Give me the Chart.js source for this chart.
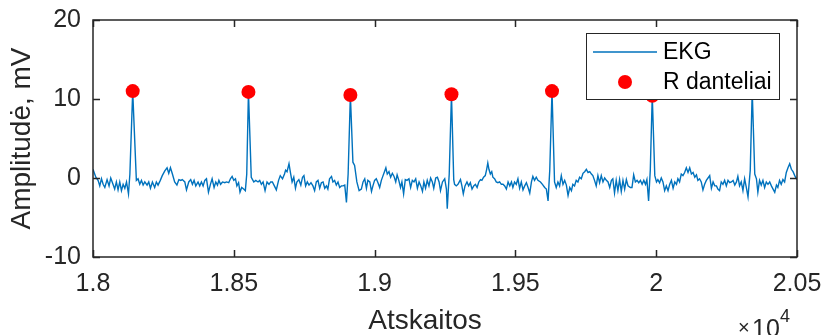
<!DOCTYPE html>
<html lang="lt">
<head>
  <meta charset="UTF-8" />
  <title>EKG R danteliai</title>
  <style>
    body { margin: 0; background: #fff; }
    #wrap { width: 824px; height: 335px; }
  </style>
</head>
<body>
  <div id="wrap"><canvas id="ekg" width="824" height="335"></canvas></div>

  <script src="https://cdn.jsdelivr.net/npm/chart.js"></script>
  <script>
    // EKG signal (sample number, mV)
    const ekgX = [
      18000,18010,18018,18024,18030,18036,18042,18050,18057,18063,18071,18077,18083,18089,18095,18101,18107,18113,18119,18126,
      18131,18141,18154,18160,18166,18172,18178,18184,18192,18198,18204,18211,18219,18225,18231,18239,18246,18255,18263,18269,
      18275,18282,18290,18298,18305,18312,18317,18326,18332,18340,18347,18353,18359,18365,18373,18379,18385,18391,18397,18403,
      18410,18417,18423,18430,18436,18442,18447,18453,18460,18468,18474,18482,18488,18494,18500,18506,18511,18517,18522,18528,
      18535,18541,18546,18552,18562,18571,18578,18586,18592,18598,18604,18611,18618,18625,18631,18637,18644,18651,18659,18665,
      18673,18680,18684,18689,18696,18701,18707,18713,18719,18724,18731,18738,18744,18749,18755,18761,18767,18774,18781,18787,
      18793,18799,18805,18811,18817,18823,18829,18834,18840,18847,18852,18858,18864,18870,18876,18882,18888,18894,18900,18906,
      18914,18923,18929,18937,18945,18953,18959,18965,18971,18976,18983,18989,18994,19000,19006,19012,19018,19024,19030,19036,
      19040,19045,19051,19057,19063,19069,19075,19080,19086,19092,19097,19103,19109,19115,19122,19128,19134,19140,19146,19152,
      19158,19164,19170,19175,19181,19187,19193,19199,19205,19210,19217,19223,19229,19234,19241,19249,19255,19258,19265,19273,
      19281,19284,19290,19296,19305,19310,19315,19321,19328,19334,19340,19346,19352,19358,19364,19370,19376,19381,19387,19393,
      19398,19402,19406,19411,19416,19420,19426,19432,19438,19444,19450,19456,19462,19468,19474,19480,19486,19491,19497,19503,
      19509,19515,19521,19527,19533,19539,19545,19551,19557,19562,19568,19574,19580,19589,19596,19604,19610,19616,19622,19630,
      19639,19645,19651,19657,19663,19669,19675,19681,19687,19693,19699,19704,19710,19716,19722,19728,19734,19740,19746,19752,
      19758,19764,19770,19775,19781,19787,19793,19799,19805,19811,19817,19823,19829,19835,19841,19846,19852,19858,19864,19870,
      19876,19882,19888,19894,19900,19908,19914,19920,19926,19932,19938,19944,19950,19956,19962,19967,19973,19979,19986,19995,
      20001,20006,20012,20018,20024,20030,20036,20042,20048,20054,20060,20066,20072,20077,20083,20089,20095,20101,20107,20113,
      20119,20125,20131,20137,20143,20148,20154,20160,20166,20172,20178,20184,20190,20196,20202,20208,20214,20219,20225,20231,
      20237,20243,20249,20255,20261,20267,20273,20279,20285,20290,20296,20302,20308,20314,20320,20326,20334,20341,20350,20356,
      20361,20367,20373,20379,20385,20391,20397,20403,20409,20415,20421,20427,20432,20438,20444,20450,20456,20462,20468,20474,
      20480,20486,20492,20498,20500
    ];
    const ekgY = [
      1.1,0.1,-0.3,-1.0,-0.1,-0.8,-1.2,-0.2,-1.0,0,-0.8,-1.4,-0.5,-1.5,-0.5,-1.6,-0.8,-1.3,-0.5,-2.0,
      0.5,11.0,-0.3,-0.1,-0.8,-0.3,-0.9,-0.5,-0.9,-0.5,-1.3,-0.5,-1.2,-0.5,-0.9,-0.3,0.3,0.9,1.3,0.6,
      1.3,0.5,-0.5,-0.9,-0.2,-0.3,-0.2,-0.5,-1.5,-0.5,-0.2,-0.8,-0.3,-1.0,-0.5,-1.0,-0.5,-1.0,-0.3,-0.1,
      -1.8,-0.8,-0.1,-1.2,-0.5,-0.9,-0.3,-0.8,-0.5,-0.6,-0.5,-0.6,-0.1,0.2,-0.3,-0.1,-1.0,-0.6,-1.8,-1.2,
      -1.4,-1.6,0.5,10.9,0.1,-0.5,-0.3,-0.5,-0.3,-0.8,-0.5,-1.6,-0.5,-0.8,-0.5,-0.5,-1.0,-1.5,-0.3,0.3,
      -0.1,0.5,1.0,0.8,1.8,0.7,-0.5,0.1,-1.3,-0.5,-0.2,-0.9,0.1,0.3,-1.0,-0.5,-0.9,-0.6,-1.0,-1.6,
      -0.5,-0.3,-1.3,-0.6,-0.5,-1.3,-1.0,-1.4,-0.1,0.2,-0.5,-0.3,-0.9,-0.5,-1.2,-1.0,-1.0,-0.9,-3.1,0.5,
      10.5,2.0,1.6,-0.5,-1.6,-1.4,-0.5,-0.1,-1.3,-0.3,-0.5,-1.7,-1.0,-0.3,-0.1,-0.6,-1.2,-0.3,0.3,0.9,
      1.3,0.5,0.8,0.1,0.6,0.2,-0.5,0.4,-0.3,-1.2,-0.5,-2.0,-0.2,-0.3,-0.1,-1.2,-0.3,-0.5,-0.1,-1.3,
      -0.5,-1.0,-1.7,-0.5,-1.3,-0.3,-1.0,0,-0.5,-1.3,0,0.1,-0.5,-1.6,-0.5,-0.1,-1.4,-3.9,0.5,10.6,
      -0.2,-0.8,-1.0,-0.8,-0.2,-1.0,-2.0,-1.0,-0.5,-1.0,-0.6,-1.4,-1.0,-0.8,-1.2,-0.5,-0.2,-0.3,0.1,0.3,
      1.1,1.9,1.1,0.5,0.8,0.1,-0.1,-0.5,-0.6,-0.5,-0.8,-0.8,-1.0,-1.4,-0.5,-1.0,-0.5,-1.2,-0.5,-0.8,
      -0.1,-1.3,-0.5,-1.5,-1.0,-0.6,-1.2,-1.9,-0.5,0.2,-0.3,0.1,-0.3,-0.5,-0.8,-1.2,-1.4,-2.9,1.0,11.0,
      -0.5,-1.2,-0.5,-1.0,0.3,-0.8,-0.3,-0.9,-2.2,-1.2,-1.6,-0.8,-1.0,-0.3,-0.5,0.1,-0.1,0.6,0.8,1.1,
      0.7,0.8,0.5,0.3,-0.3,-1.0,0.3,-0.6,0.3,-0.5,0,-0.3,-0.5,-1.2,-0.3,-0.1,-1.9,-0.3,-1.6,-0.2,
      -1.7,-0.3,-1.4,-0.2,-1.0,-1.2,-1.2,0.4,-0.5,-0.3,-0.6,-0.3,-0.8,-0.3,-0.8,-0.2,-2.9,1.0,10.4,0.3,
      -0.5,-0.2,-0.6,0,-0.5,-1.6,-1.0,-1.6,-0.8,-0.3,-1.3,-0.5,-0.8,-0.1,-0.5,0.5,0.3,0.7,1.3,0.7,
      1.3,0.5,0.7,0.1,0.4,-0.3,-0.1,-0.5,-1.5,-0.8,-0.3,0,0.3,-1.3,-0.5,-1.0,-1.0,-1.4,-1.6,-0.5,
      -0.8,-0.3,-1.0,-0.3,-0.6,-0.5,-0.3,-0.9,-0.5,0.2,-1.0,-0.5,-1.6,-0.1,-1.2,-2.4,1.0,11.0,0.5,-0.1,
      -1.8,-0.3,-0.9,-0.3,-1.2,-0.5,-0.8,-0.5,-1.0,-1.4,-1.8,-0.9,-1.2,-0.3,-0.8,-0.2,-0.5,0.7,1.3,1.8,
      1.1,0.8,0.3,-0.1,-0.2
    ];

    // detected R peaks
    const rPeakX = [18141, 18552, 18914, 19273, 19630, 19986, 20341];
    const rPeakY = [11.0, 10.9, 10.5, 10.6, 11.0, 10.4, 11.0];

    const xTicks = [18000, 18500, 19000, 19500, 20000, 20500];
    const xTickLabels = ['1.8', '1.85', '1.9', '1.95', '2', '2.05'];
    const yTicks = [-10, 0, 10, 20];
    const yTickLabels = ['-10', '0', '10', '20'];

    const seriesNames = ['EKG', 'R danteliai'];
    const xTitle = 'Atskaitos';
    const axisColor = '#262626';
    const font = 'Liberation Sans, Arial, sans-serif';

    // MATLAB style box, inward ticks, legend inside the axes, x label and the x10^4 note
    const matlabAxes = {
      id: 'matlabAxes',
      afterDraw(chart) {
        const ctx = chart.ctx;
        const a = chart.chartArea;
        const xs = chart.scales.x, ys = chart.scales.y;
        ctx.save();
        ctx.strokeStyle = axisColor;
        ctx.lineWidth = 1.5;
        ctx.strokeRect(a.left, a.top, a.right - a.left, a.bottom - a.top);
        ctx.beginPath();
        xTicks.forEach(v => {
          const px = Math.round(xs.getPixelForValue(v)) + 0.5;
          ctx.moveTo(px, a.bottom); ctx.lineTo(px, a.bottom - 7);
          ctx.moveTo(px, a.top); ctx.lineTo(px, a.top + 7);
        });
        yTicks.forEach(v => {
          const py = Math.round(ys.getPixelForValue(v)) + 0.5;
          ctx.moveTo(a.left, py); ctx.lineTo(a.left + 7, py);
          ctx.moveTo(a.right, py); ctx.lineTo(a.right - 7, py);
        });
        ctx.stroke();

        // legend
        const lx = 586, ly = 33, lw = 193, lh = 66;
        ctx.fillStyle = '#fff';
        ctx.fillRect(lx, ly, lw, lh);
        ctx.strokeStyle = axisColor;
        ctx.lineWidth = 1;
        ctx.strokeRect(lx + 0.5, ly + 0.5, lw, lh);
        ctx.strokeStyle = '#0072BD';
        ctx.lineWidth = 1.4;
        ctx.beginPath();
        ctx.moveTo(lx + 7, ly + 19); ctx.lineTo(lx + 71, ly + 19);
        ctx.stroke();
        ctx.fillStyle = '#ff0000';
        ctx.beginPath();
        ctx.arc(lx + 39, ly + 49, 7, 0, Math.PI * 2);
        ctx.fill();
        ctx.fillStyle = '#000';
        ctx.font = '23px ' + font;
        ctx.textBaseline = 'middle';
        ctx.textAlign = 'left';
        ctx.fillText(seriesNames[0], lx + 77, ly + 20);
        ctx.fillText(seriesNames[1], lx + 77, ly + 50);

        // x axis label
        ctx.fillStyle = axisColor;
        ctx.font = '28px ' + font;
        ctx.textAlign = 'center';
        ctx.fillText(xTitle, 425, 321);

        // exponent of the x axis
        ctx.textAlign = 'left';
        ctx.textBaseline = 'alphabetic';
        ctx.font = '20px ' + font;
        ctx.fillText('\u00d7', 738, 334);
        ctx.font = '25px ' + font;
        ctx.fillText('10', 752, 337);
        ctx.font = '18px ' + font;
        ctx.fillText('4', 780, 322);
        ctx.restore();
      }
    };

    new Chart(document.getElementById('ekg'), {
      type: 'scatter',
      data: {
        datasets: [
          {
            label: seriesNames[1],
            data: rPeakX.map((x, i) => ({ x, y: rPeakY[i] })),
            backgroundColor: '#ff0000',
            borderWidth: 0,
            pointRadius: 7,
            order: 1
          },
          {
            label: seriesNames[0],
            data: ekgX.map((x, i) => ({ x, y: ekgY[i] })),
            showLine: true,
            borderColor: '#0072BD',
            borderWidth: 1.4,
            pointRadius: 0,
            tension: 0,
            order: 2
          }
        ]
      },
      options: {
        responsive: false,
        animation: false,
        devicePixelRatio: 1,
        layout: { padding: { top: 20, right: 27, left: 0, bottom: 0 } },
        plugins: { legend: { display: false }, tooltip: { enabled: false } },
        scales: {
          x: {
            type: 'linear',
            min: 18000, max: 20500,
            afterBuildTicks: s => { s.ticks = xTicks.map(v => ({ value: v })); },
            afterFit: s => { s.height = 78; s.paddingLeft = 0; s.paddingRight = 0; },
            grid: { display: false, drawTicks: false },
            border: { display: false },
            ticks: {
              padding: 12,
              maxRotation: 0,
              color: axisColor,
              font: { family: font, size: 25 },
              callback: (v) => xTickLabels[xTicks.indexOf(v)]
            }
          },
          y: {
            min: -10, max: 20,
            afterBuildTicks: s => { s.ticks = yTicks.map(v => ({ value: v })); },
            afterFit: s => { s.width = 93; s.paddingTop = 0; s.paddingBottom = 0; },
            grid: { display: false, drawTicks: false },
            border: { display: false },
            ticks: {
              padding: 12,
              color: axisColor,
              font: { family: font, size: 25 },
              callback: (v) => yTickLabels[yTicks.indexOf(v)]
            },
            title: {
              display: true, text: 'Amplitudė, mV', color: axisColor,
              font: { family: font, size: 28, lineHeight: 1 },
              padding: { top: 8, bottom: 0 }
            }
          }
        }
      },
      plugins: [matlabAxes]
    });
  </script>
</body>
</html>
